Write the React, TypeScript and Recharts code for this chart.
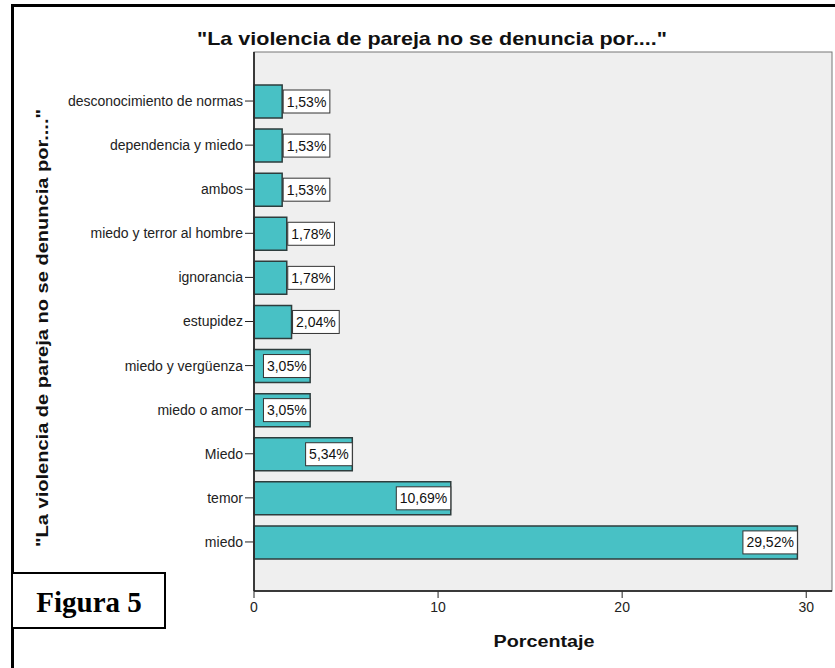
import { BarChart, Bar, XAxis, YAxis, CartesianGrid, LabelList } from 'recharts'

const categories = [
  'desconocimiento de normas',
  'dependencia y miedo',
  'ambos',
  'miedo y terror al hombre',
  'ignorancia',
  'estupidez',
  'miedo y vergüenza',
  'miedo o amor',
  'Miedo',
  'temor',
  'miedo',
]
const percents = [1.53, 1.53, 1.53, 1.78, 1.78, 2.04, 3.05, 3.05, 5.34, 10.69, 29.52]
const xTicks = [0, 10, 20, 30]

const data = categories.map((name, i) => ({ name, pct: percents[i] }))

const FONT = 'Arial, "Liberation Sans", Helvetica, sans-serif'

function fmtPct(n: number): string {
  return n.toFixed(2).replace('.', ',') + '%'
}

// rough Arial widths so the white box hugs the text
function textWidth(s: string, size: number): number {
  let w = 0
  for (const ch of s) {
    if (ch === ',') w += 0.278
    else if (ch === '%') w += 0.889
    else w += 0.556
  }
  return w * size
}

function PctLabel(props: any) {
  const { x, y, width, height, value } = props
  const text = fmtPct(Number(value))
  const boxW = textWidth(text, 14) + 7
  const boxH = 23
  const inside = width > boxW + 2
  const bx = inside ? x + width - boxW : x + width + 1
  const by = y + height / 2 - boxH / 2
  return (
    <g>
      <rect x={bx} y={by} width={boxW} height={boxH} fill="#fff" stroke="#333" strokeWidth={1} />
      <text x={bx + boxW / 2} y={by + boxH / 2 + 5} textAnchor="middle" fontSize={14} fontFamily={FONT} fill="#111">
        {text}
      </text>
    </g>
  )
}

export default function App() {
  return (
    <div style={{ position: 'absolute', left: 0, top: 0, width: 835, height: 668, background: '#fff', overflow: 'hidden' }}>
      <BarChart
        layout="vertical"
        width={835}
        height={668}
        data={data}
        margin={{ top: 52, right: 3, bottom: 0, left: 0 }}
        style={{ fontFamily: FONT }}
      >
        <CartesianGrid fill="#efefef" horizontal={false} vertical={false} />
        <XAxis
          type="number"
          domain={[0, 31.4]}
          ticks={xTicks}
          height={77}
          tickSize={7}
          tickMargin={4}
          stroke="#222"
          tick={{ fontSize: 14, fill: '#222' }}
        />
        <YAxis
          type="category"
          dataKey="name"
          width={254}
          tickSize={9}
          tickMargin={2}
          interval={0}
          padding={{ top: 27, bottom: 27 }}
          stroke="#222"
          tick={{ fontSize: 14, fill: '#222' }}
        />
        <Bar dataKey="pct" fill="#48c1c5" stroke="#2e3d3d" strokeWidth={1.5} barSize={33} isAnimationActive={false}>
          <LabelList dataKey="pct" content={PctLabel} />
        </Bar>
      </BarChart>
      <svg width={835} height={668} style={{ position: 'absolute', left: 0, top: 0, pointerEvents: 'none' }}>
        <line x1={12.5} y1={4} x2={12.5} y2={668} stroke="#000" strokeWidth={3} />
        <line x1={11} y1={5.5} x2={835} y2={5.5} stroke="#000" strokeWidth={3} />
        <rect x={254} y={52} width={578} height={539} fill="none" stroke="#777" strokeWidth={1} />
        <line x1={254} y1={52} x2={254} y2={591} stroke="#222" strokeWidth={1.5} />
        <line x1={254} y1={591} x2={832} y2={591} stroke="#222" strokeWidth={1.5} />
        <text x={432} y={45} textAnchor="middle" fontSize={19} fontWeight="bold" fontFamily={FONT} fill="#111" textLength={470} lengthAdjust="spacingAndGlyphs">
          "La violencia de pareja no se denuncia por...."
        </text>
        <text
          x={0}
          y={0}
          transform="translate(48,328) rotate(-90)"
          textAnchor="middle"
          fontSize={17}
          fontWeight="bold"
          fontFamily={FONT}
          fill="#111"
          textLength={438}
          lengthAdjust="spacingAndGlyphs"
        >
          "La violencia de pareja no se denuncia por...."
        </text>
        <text x={544} y={647} textAnchor="middle" fontSize={16} fontWeight="bold" fontFamily={FONT} fill="#111" textLength={101} lengthAdjust="spacingAndGlyphs">
          Porcentaje
        </text>
        <rect x={12} y={573} width={153} height={55} fill="#fff" stroke="#000" strokeWidth={2} />
        <text x={89} y={612} textAnchor="middle" fontSize={29} fontWeight="bold" fontFamily='"Liberation Serif", "Times New Roman", serif' fill="#000">
          Figura 5
        </text>
      </svg>
    </div>
  )
}
